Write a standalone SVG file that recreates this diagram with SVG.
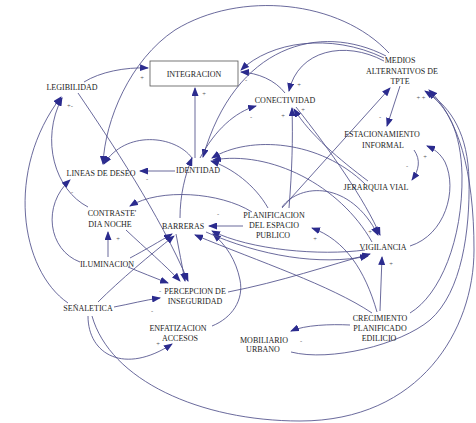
<svg xmlns="http://www.w3.org/2000/svg" width="476" height="423" viewBox="0 0 476 423">
<defs>
<marker id="ah" markerUnits="userSpaceOnUse" markerWidth="9" markerHeight="7" refX="8" refY="3.5" orient="auto">
<path d="M0,0 L9,3.5 L0,7 z" fill="#2b2b8e"/>
</marker>
<style>
.lbl{font-family:"Liberation Serif","Times New Roman",serif;font-size:8px;fill:#222;text-anchor:middle}
.sg{font-family:"Liberation Serif",serif;font-size:6.5px;fill:#555;text-anchor:middle}
.c path{fill:none;stroke:#4f4f8a;stroke-width:0.85;marker-end:url(#ah)}
</style>
</defs>
<rect width="476" height="423" fill="#ffffff"/>

<g id="connectors" class="c">
<path d="M389 53 C340 0,240 -10,175 30 C130 60,105 120,103 164"/>
<path d="M386 56 C320 22,235 45,203 157"/>
<path d="M384 58 C330 32,270 42,241 70"/>
<path d="M384 61 C345 40,298 50,289 91"/>
<path d="M285 93 C275 80,258 73,241 72"/>
<path d="M195 158 L195 88"/>
<path d="M200 158 C215 130,235 112,256 106"/>
<path d="M175 171 L140 171"/>
<path d="M192 158 C175 135,125 130,104 164"/>
<path d="M84 82 C100 72,125 67,148 68"/>
<path d="M78 93 C110 140,160 215,188 281"/>
<path d="M88 207 C55 190,40 140,62 98"/>
<path d="M68 303 C20 270,5 170,61 97"/>
<path d="M80 262 C48 250,42 205,70 180"/>
<path d="M108 257 L108 232"/>
<path d="M128 267 C140 272,155 278,168 283"/>
<path d="M130 258 C145 250,160 241,172 234"/>
<path d="M98 302 C120 280,150 255,174 236"/>
<path d="M114 307 C130 304,145 300,160 298"/>
<path d="M88 316 C88 355,125 375,172 344"/>
<path d="M92 316 C110 380,200 421,300 421 C420 421,474 330,474 250 C474 170,458 118,429 90"/>
<path d="M291 352 C330 362,400 345,430 320 C462 292,470 230,469 180 C468 135,452 108,427 92"/>
<path d="M410 313 C440 295,463 240,462 175 C461 132,448 106,425 91"/>
<path d="M410 246 C445 235,458 190,445 162 C440 153,434 149,427 146"/>
<path d="M414 150 C421 160,419 170,412 180"/>
<path d="M400 86 L387 126"/>
<path d="M282 208 L390 88"/>
<path d="M289 208 C292 170,293 140,292 108"/>
<path d="M368 181 C340 160,310 135,294 109"/>
<path d="M365 184 C320 140,250 135,212 158"/>
<path d="M268 208 C255 185,232 168,211 161"/>
<path d="M372 242 C340 185,270 150,213 160"/>
<path d="M296 107 C330 150,365 200,380 235"/>
<path d="M282 207 C300 183,350 180,378 235"/>
<path d="M252 212 C220 192,160 188,130 206"/>
<path d="M243 226 L209 226"/>
<path d="M365 250 C320 256,250 250,212 231"/>
<path d="M372 313 C330 285,260 262,195 235"/>
<path d="M212 326 C232 318,244 300,240 280 C236 260,226 245,213 234"/>
<path d="M180 218 C180 195,185 175,192 158"/>
<path d="M176 234 C179 250,182 265,185 281"/>
<path d="M126 230 C145 248,165 265,180 281"/>
<path d="M228 292 C280 282,330 265,370 254"/>
<path d="M206 232 C260 256,320 266,368 256"/>
<path d="M377 312 C365 270,345 240,312 228"/>
<path d="M380 311 L382 257"/>
<path d="M350 325 C330 324,305 325,291 331"/>
</g>

<g id="signs">
<text class="sg" x="204" y="96">+</text>
<text class="sg" x="142" y="80">+</text>
<text class="sg" x="246" y="82">-</text>
<text class="sg" x="299" y="87">+</text>
<text class="sg" x="303" y="112">+</text>
<text class="sg" x="283" y="118">+</text>
<text class="sg" x="251" y="119">-</text>
<text class="sg" x="147" y="181">-</text>
<text class="sg" x="380" y="119">-</text>
<text class="sg" x="421" y="100">+ +</text>
<text class="sg" x="407" y="168">-</text>
<text class="sg" x="425" y="159">+</text>
<text class="sg" x="370" y="234">+</text>
<text class="sg" x="391" y="266">+</text>
<text class="sg" x="315" y="241">+</text>
<text class="sg" x="218" y="216">-</text>
<text class="sg" x="158" y="346">+</text>
<text class="sg" x="152" y="313">-</text>
<text class="sg" x="160" y="293">-</text>
<text class="sg" x="70" y="108">+-</text>
<text class="sg" x="118" y="241">+</text>
<text class="sg" x="72" y="194">-</text>
<text class="sg" x="301" y="343">-</text>
</g>

<g id="legibilidad"><text class="lbl" x="72" y="90">LEGIBILIDAD</text></g>
<g id="integracion">
<rect x="150" y="61" width="88" height="25" fill="#ffffff" stroke="#555" stroke-width="0.8"/>
<text class="lbl" x="194" y="76.5">INTEGRACION</text>
</g>
<g id="medios">
<text class="lbl" x="400" y="63">MEDIOS</text>
<text class="lbl" x="402" y="74">ALTERNATIVOS DE</text>
<text class="lbl" x="400" y="84">TPTE</text>
</g>
<g id="conectividad"><text class="lbl" x="285" y="103">CONECTIVIDAD</text></g>
<g id="estacionamiento">
<text class="lbl" x="382" y="137">ESTACIONAMIENTO</text>
<text class="lbl" x="383" y="148">INFORMAL</text>
</g>
<g id="identidad"><text class="lbl" x="198" y="173">IDENTIDAD</text></g>
<g id="lineas"><text class="lbl" x="101" y="176">LINEAS DE DESEO</text></g>
<g id="jerarquia"><text class="lbl" x="376" y="190">JERARQUIA VIAL</text></g>
<g id="contraste">
<text class="lbl" x="112" y="216">CONTRASTE'</text>
<text class="lbl" x="110" y="227">DIA NOCHE</text>
</g>
<g id="barreras"><text class="lbl" x="183" y="229">BARRERAS</text></g>
<g id="planificacion">
<text class="lbl" x="274" y="218">PLANIFICACION</text>
<text class="lbl" x="274" y="228">DEL ESPACIO</text>
<text class="lbl" x="273" y="238">PUBLICO</text>
</g>
<g id="vigilancia"><text class="lbl" x="383" y="250">VIGILANCIA</text></g>
<g id="iluminacion"><text class="lbl" x="107" y="267">ILUMINACION</text></g>
<g id="percepcion">
<text class="lbl" x="195" y="294">PERCEPCION DE</text>
<text class="lbl" x="195" y="304">INSEGURIDAD</text>
</g>
<g id="senaletica"><text class="lbl" x="88" y="311">SEÑALETICA</text></g>
<g id="enfatizacion">
<text class="lbl" x="178" y="331">ENFATIZACION</text>
<text class="lbl" x="180" y="341">ACCESOS</text>
</g>
<g id="crecimiento">
<text class="lbl" x="380" y="321">CRECIMIENTO</text>
<text class="lbl" x="380" y="331">PLANIFICADO</text>
<text class="lbl" x="379" y="341">EDILICIO</text>
</g>
<g id="mobiliario">
<text class="lbl" x="264" y="343">MOBILIARIO</text>
<text class="lbl" x="263" y="352">URBANO</text>
</g>
</svg>
